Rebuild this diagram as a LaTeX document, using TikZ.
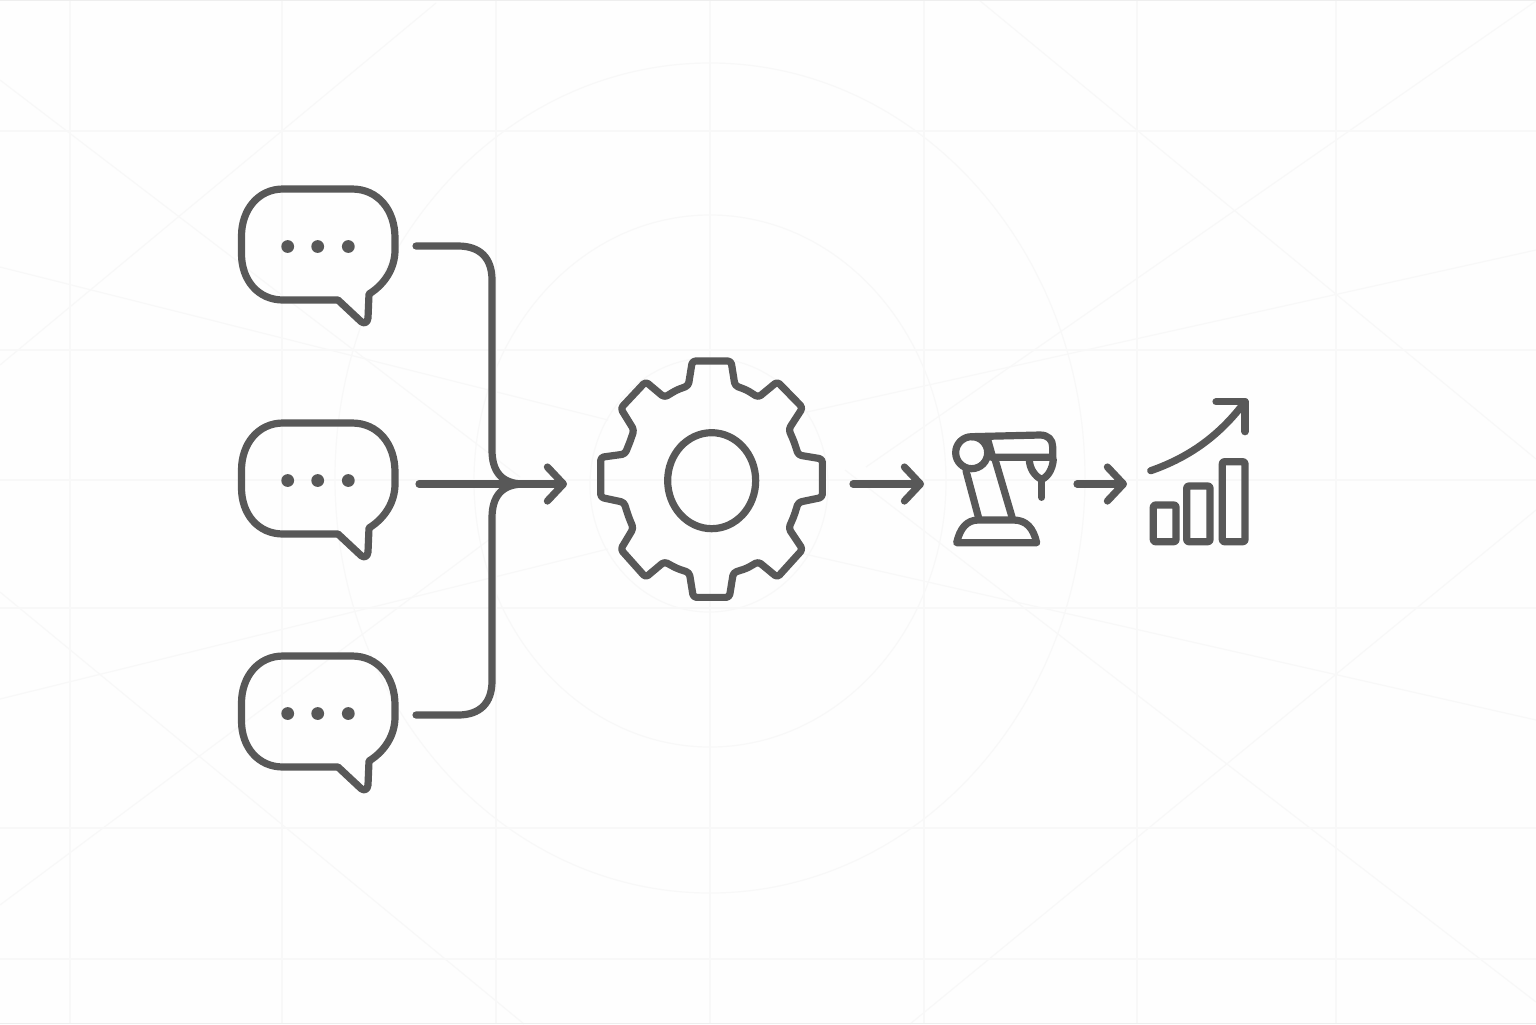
\documentclass[tikz,border=0pt]{standalone}
\usetikzlibrary{arrows.meta}
\definecolor{ink}{HTML}{585858}
\definecolor{faint}{HTML}{F8F8F8}
\definecolor{edge}{HTML}{EEEEEE}
\definecolor{paper}{HTML}{FEFEFE}
\tikzset{
  x=0.5pt,y=-0.5pt,
  ink line/.style={draw=ink,line width=3.6pt,line cap=round,line join=round},
  back line/.style={draw=faint,line width=0.6pt},
  flow/.style={ink line,-{Straight Barb[round,length=8pt,width=17pt,line width=3.6pt]}},
  anchor box/.style={inner sep=0pt,outer sep=0pt,minimum width=0pt,minimum height=0pt},
  bubble/.pic={
    \draw[ink line] (283,189) -- (352,189)
      .. controls (378,189) and (395,210) .. (395,238) -- (395,250)
      .. controls (395,268) and (385,284) .. (369,294)
      -- (368,318) .. controls (367.5,323) and (364,324) .. (361,321.5)
      -- (338,300) -- (283,300)
      .. controls (258,300) and (241.5,280) .. (241.5,254) -- (241.5,236)
      .. controls (241.5,210) and (258,189) .. (283,189) -- cycle;
    \fill[ink] (287.7,246.5) circle[radius=3.2pt] (317.7,246.5) circle[radius=3.2pt] (348.3,246.5) circle[radius=3.2pt];
  }
}
\begin{document}
\begin{tikzpicture}
\useasboundingbox (0,0) rectangle (1536,1024);
\fill[paper] (0,0) rectangle (1536,1024);
% faint background construction lines
\foreach \gx in {70,282,496,710,924,1137,1336} \draw[back line] (\gx,0) -- (\gx,1024);
\foreach \gy in {131,350,480,608,828,959} \draw[back line] (0,\gy) -- (1536,\gy);
\draw[back line] (710,478) ellipse[x radius=187.5pt,y radius=207.5pt];
\draw[back line] (710,481) ellipse[x radius=118pt,y radius=133pt];
\draw[back line] (709,485) ellipse[x radius=59.5pt,y radius=63.5pt];
\draw[back line] (0,80) -- (520,477);
\draw[back line] (0,365) -- (436,3);
\draw[back line] (0,267) -- (608,420);
\draw[back line] (979,0) -- (1536,459);
\draw[back line] (1536,1) -- (866,467);
\draw[back line] (1536,250) -- (807,412);
\draw[back line] (800,553) -- (1536,720);
\draw[back line] (845,470) -- (1536,1002);
\draw[back line] (1536,510) -- (910,1024);
\draw[back line] (0,699) -- (608,549);
\draw[back line] (0,592) -- (524,1024);
\draw[back line] (0,905) -- (490,539);
\draw[edge,line width=0.5pt] (0,0.5) -- (1536,0.5) (0,1023.5) -- (1536,1023.5);
% bubbles
\pic at (0,0) {bubble};
\pic at (0,234) {bubble};
\pic at (0,467) {bubble};
\node[anchor box] (b1) at (416,246) {};
\node[anchor box] (b2) at (419,484) {};
\node[anchor box] (b3) at (416,715) {};
\node[anchor box] (merge) at (567,484) {};
\node[anchor box] (gearin) at (853,484) {};
\node[anchor box] (robotin) at (924,484) {};
\node[anchor box] (robotout) at (1077,484) {};
\node[anchor box] (chartin) at (1127,484) {};
% connectors
\draw[ink line] (b1.center) -- (458,246) .. controls (480,246) and (492,258) .. (492,280) -- (492,450)
  .. controls (492,472) and (502,484) .. (524,484);
\draw[ink line] (b3.center) -- (458,715) .. controls (480,715) and (492,703) .. (492,681) -- (492,518)
  .. controls (492,496) and (502,484) .. (524,484);
\draw[flow] (b2.center) -- (merge.center);
\draw[flow] (gearin.center) -- (robotin.center);
\draw[flow] (robotout.center) -- (chartin.center);
% gear
\begin{scope}[shift={(580,340)},x=0.16667pt,y=-0.16667pt]
\draw[ink line,rounded corners=1.6pt] (325,137) -- (337,63) -- (453,63) -- (465,137)
 -- (500,150) -- (535,172) -- (592,125) -- (668,203) -- (626,268) -- (642,305) -- (655,345)
 -- (727,357) -- (727,472) -- (655,487) -- (642,528) -- (626,565) -- (668,628)
 -- (592,712) -- (535,665) -- (500,685) -- (460,698) -- (448,772) -- (340,772) -- (328,698)
 -- (290,685) -- (253,665) -- (197,712) -- (122,628) -- (160,565) -- (145,528) -- (132,487)
 -- (62,472) -- (62,352) -- (135,342) -- (150,305) -- (162,270) -- (122,205) -- (197,125)
 -- (253,172) -- (290,150) -- cycle;
\draw[ink line] (395,422) ellipse[x radius=22pt,y radius=24pt];
\end{scope}
% robot
\begin{scope}[shift={(930,380)},x=0.16667pt,y=-0.16667pt]
\draw[ink line] (125,218) circle[radius=8pt];
\draw[ink line] (125,170) -- (330,165) .. controls (355,165) and (368,180) .. (368,200) -- (368,232) -- (185,232);
\draw[ink line] (172,175) -- (188,232);
\draw[ink line] (298,238) .. controls (298,265) and (315,290) .. (335,298) .. controls (355,290) and (368,265) .. (370,238);
\draw[ink line] (335,298) -- (335,352);
\draw[ink line] (108,272) -- (147,418);
\draw[ink line] (195,238) -- (248,418);
\draw[ink line] (80,488) .. controls (90,445) and (110,420) .. (145,420) -- (250,420)
  .. controls (290,420) and (310,445) .. (320,488) -- cycle;
\end{scope}
% chart
\draw[ink line] (1150.7,470.7) .. controls (1190,457) and (1220,435) .. (1245,401.7);
\draw[ink line] (1216,401.7) -- (1245,401.7) -- (1245,431.7);
\draw[ink line,rounded corners=1pt] (1153.3,505) rectangle (1176,541.7);
\draw[ink line,rounded corners=1pt] (1186.7,486) rectangle (1210,541.7);
\draw[ink line,rounded corners=1pt] (1222.3,461.7) rectangle (1245,541.7);
\end{tikzpicture}
\end{document}
